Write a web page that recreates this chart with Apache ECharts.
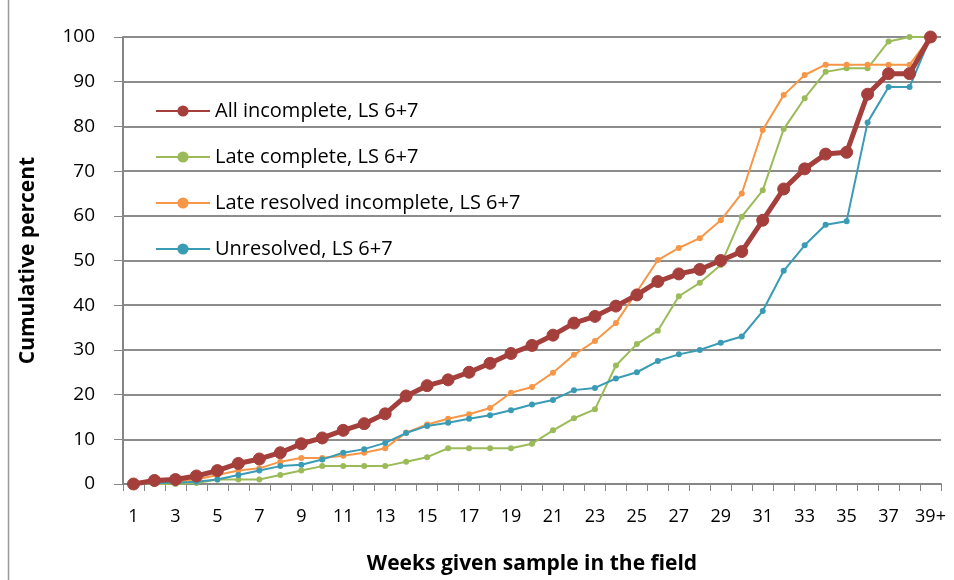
<!DOCTYPE html>
<html>
<head>
<meta charset="utf-8">
<script src="https://cdn.jsdelivr.net/npm/echarts@6/dist/echarts.min.js"></script>
<style>
  html, body { margin: 0; padding: 0; background: #fff; overflow: hidden; }
  #chart { width: 954px; height: 580px; }
</style>
</head>
<body>
<div id="chart"></div>
<script>
// weeks 1..38 then 39+
var weeks = [];
for (var w = 1; w <= 38; w++) weeks.push(String(w));
weeks.push('39+');

var allIncomplete = [0, 0.8, 1, 1.8, 3, 4.6, 5.6, 7, 9, 10.3, 12, 13.5, 15.7, 19.7, 22, 23.3, 25, 27, 29.2, 31,
  33.3, 36, 37.5, 39.8, 42.3, 45.3, 47, 48, 50, 52, 59, 66, 70.5, 73.8, 74.2, 87.2, 91.8, 91.8, 100];
var lateComplete = [0, 0, 0, 0.2, 1, 1, 1, 2, 3, 4, 4, 4, 4, 5, 6, 8, 8, 8, 8, 9,
  12, 14.7, 16.7, 26.5, 31.3, 34.3, 42, 45, 49, 59.8, 65.7, 79.4, 86.3, 92.2, 93, 93, 99, 100, 100];
var lateResolved = [0, 0.3, 0.5, 1, 2, 3, 3.5, 5, 5.8, 5.8, 6.3, 7, 8, 11.5, 13.3, 14.6, 15.6, 17, 20.4, 21.7,
  24.9, 28.9, 32, 36, 43, 50.1, 52.8, 55, 59, 65, 79.2, 87, 91.5, 93.8, 93.8, 93.8, 93.8, 93.8, 100];
var unresolved = [0, 0.2, 0.3, 0.5, 1, 2, 3, 4, 4.3, 5.5, 7, 7.8, 9.2, 11.4, 13, 13.7, 14.6, 15.4, 16.5, 17.8,
  18.8, 21, 21.5, 23.6, 25, 27.5, 29, 30, 31.6, 33, 38.7, 47.7, 53.4, 58, 58.8, 80.9, 88.8, 88.8, 100];

var chart = echarts.init(document.getElementById('chart'));
var font = 'Open Sans, Liberation Sans, Arial, sans-serif';

function thin(name, data, color) {
  return {
    name: name, type: 'line', data: data, symbol: 'circle', symbolSize: 6,
    lineStyle: { color: color, width: 2 }, itemStyle: { color: color },
    z: 2
  };
}

chart.setOption({
  animation: false,
  textStyle: { fontFamily: font },
  graphic: [{
    type: 'line', shape: { x1: 8.5, y1: 0, x2: 8.5, y2: 580 },
    style: { stroke: '#999', lineWidth: 1.5 }
  }],
  grid: { left: 123, right: 13, top: 37, bottom: 88 },
  legend: {
    orient: 'vertical', left: 150, top: 96, itemGap: 26,
    itemWidth: 54, itemHeight: 14,
    textStyle: { fontSize: 20, color: '#000', fontFamily: font },
    data: ['All incomplete, LS 6+7', 'Late complete, LS 6+7', 'Late resolved incomplete, LS 6+7', 'Unresolved, LS 6+7']
  },
  xAxis: {
    type: 'category', data: weeks, boundaryGap: true,
    name: 'Weeks given sample in the field', nameLocation: 'middle', nameGap: 70,
    nameTextStyle: { fontSize: 21, fontWeight: 'bold', color: '#000' },
    axisLine: { lineStyle: { color: '#868686', width: 2 } },
    axisTick: { show: true, interval: 0, length: 7, lineStyle: { color: '#868686' } },
    axisLabel: { interval: 1, fontSize: 18, color: '#000', margin: 24 }
  },
  yAxis: {
    type: 'value', min: 0, max: 100, interval: 10,
    name: 'Cumulative percent', nameLocation: 'middle', nameGap: 84,
    nameTextStyle: { fontSize: 21, fontWeight: 'bold', color: '#000' },
    axisLine: { show: true, lineStyle: { color: '#868686', width: 2 } },
    axisTick: { show: true, length: 9, lineStyle: { color: '#868686' } },
    axisLabel: { fontSize: 19, color: '#000', margin: 28 },
    splitLine: { lineStyle: { color: '#8c8c8c', width: 2 } }
  },
  series: [
    {
      name: 'All incomplete, LS 6+7', type: 'line', data: allIncomplete,
      symbol: 'circle', symbolSize: 12,
      lineStyle: { color: '#A43F3C', width: 5 },
      itemStyle: { color: '#A43F3C', borderColor: '#A43F3C' },
      z: 3
    },
    thin('Late complete, LS 6+7', lateComplete, '#9BBB59'),
    thin('Late resolved incomplete, LS 6+7', lateResolved, '#F79646'),
    thin('Unresolved, LS 6+7', unresolved, '#3A9BB5')
  ]
});
</script>
</body>
</html>
